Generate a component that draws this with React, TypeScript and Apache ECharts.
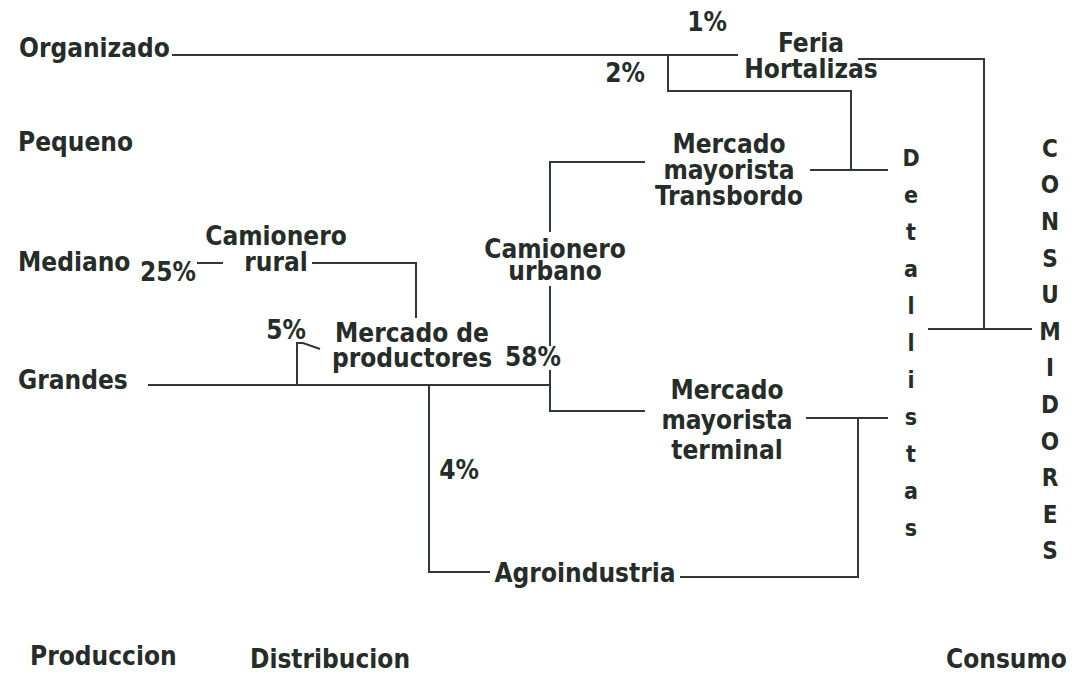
import React, { useEffect, useRef } from "react";
import * as echarts from "echarts";

// Producer groups (left column)
const producers = ["Organizado", "Pequeno", "Mediano", "Grandes"];
// Chain stages (bottom captions)
const stages = ["Produccion", "Distribucion", "Consumo"];
// Intermediary channels
const channels = [
  "Feria\nHortalizas",
  "Mercado\nmayorista\nTransbordo",
  "Camionero\nrural",
  "Camionero\nurbano",
  "Mercado de\nproductores",
  "Mercado\nmayorista\nterminal",
  "Agroindustria",
];
// Flow shares (%)
const shares = [1, 2, 25, 5, 58, 4];
// Final links
const retailers = "Detallistas";
const consumers = "CONSUMIDORES";

// ---- layout (diagram coordinates, px) ----
const W = 1075;
const H = 674;
const producerPos = [[19, 48], [18, 142], [18, 262], [18, 380]];
const stagePos = [[30, 656], [250, 659], [946, 659]];
const channelPos = [[811, 56], [729, 170], [276, 249], [555, 260], [412, 345], [727, 420], [585, 573]];
const channelLineHeight = [26, 26, 26, 22, 25, 30, 25];
const sharePos = [[707, 22], [625, 73], [168, 272], [286, 330], [533, 357], [459, 470]];
const retailerPos = [911, 343];
const consumerPos = [1050, 350];
const links = [
  [[172, 55], [738, 55]],
  [[668, 55], [668, 91], [851, 91], [851, 170]],
  [[810, 170], [888, 170]],
  [[858, 59], [984, 59], [984, 329]],
  [[928, 329], [1032, 329]],
  [[645, 162], [550, 162], [550, 232]],
  [[550, 286], [550, 346]],
  [[550, 370], [550, 411], [645, 411]],
  [[148, 385], [550, 385]],
  [[197, 263], [223, 263]],
  [[312, 263], [416, 263], [416, 318]],
  [[297, 385], [297, 343], [303, 343], [320, 349]],
  [[429, 385], [429, 572], [490, 572]],
  [[680, 577], [858, 577], [858, 418]],
  [[806, 418], [888, 418]],
];

const TEXT = "#262d29";
const LINE = "#333835";
const FONT = "'DejaVu Sans Condensed', 'DejaVu Sans', sans-serif";

export default function App() {
  const ref = useRef<HTMLDivElement>(null);
  useEffect(() => {
    if (!ref.current) return;
    const chart = echarts.init(ref.current, undefined, { renderer: "svg" });

    const baseLabel = {
      show: true,
      position: "inside",
      color: TEXT,
      opacity: 1,
      fontFamily: FONT,
      fontWeight: "bold",
      fontSize: 26,
      verticalAlign: "middle",
      formatter: (p: any) => p.name,
    };

    const textData: any[] = [];
    producers.forEach((n, i) =>
      textData.push({ name: n, value: producerPos[i], label: { align: "left" } })
    );
    stages.forEach((n, i) =>
      textData.push({ name: n, value: stagePos[i], label: { align: "left", lineHeight: 26 } })
    );
    channels.forEach((n, i) =>
      textData.push({
        name: n,
        value: channelPos[i],
        label: { align: "center", lineHeight: channelLineHeight[i] },
      })
    );
    shares.forEach((v, i) =>
      textData.push({ name: v + "%", value: sharePos[i], label: { align: "center" } })
    );
    textData.push({
      name: retailers.split("").join("\n"),
      value: retailerPos,
      label: { align: "center", lineHeight: 37, fontSize: 23 },
    });
    textData.push({
      name: consumers.split("").join("\n"),
      value: consumerPos,
      label: { align: "center", lineHeight: 36.6, fontSize: 24 },
    });

    chart.setOption({
      animation: false,
      backgroundColor: "#ffffff",
      grid: { left: 0, right: 0, top: 0, bottom: 0 },
      xAxis: { type: "value", min: 0, max: W, show: false },
      yAxis: { type: "value", min: 0, max: H, inverse: true, show: false },
      series: [
        {
          type: "lines",
          coordinateSystem: "cartesian2d",
          polyline: true,
          silent: true,
          lineStyle: { color: LINE, width: 2, opacity: 1 },
          data: links.map((c) => ({ coords: c })),
        },
        {
          type: "scatter",
          symbolSize: 0,
          silent: true,
          itemStyle: { color: "rgba(0,0,0,0)" },
          label: baseLabel,
          data: textData,
        },
      ],
    });
    return () => chart.dispose();
  }, []);
  return (
    <div
      ref={ref}
      style={{ position: "fixed", left: 0, top: 0, width: W, height: H, background: "#fff" }}
    />
  );
}
